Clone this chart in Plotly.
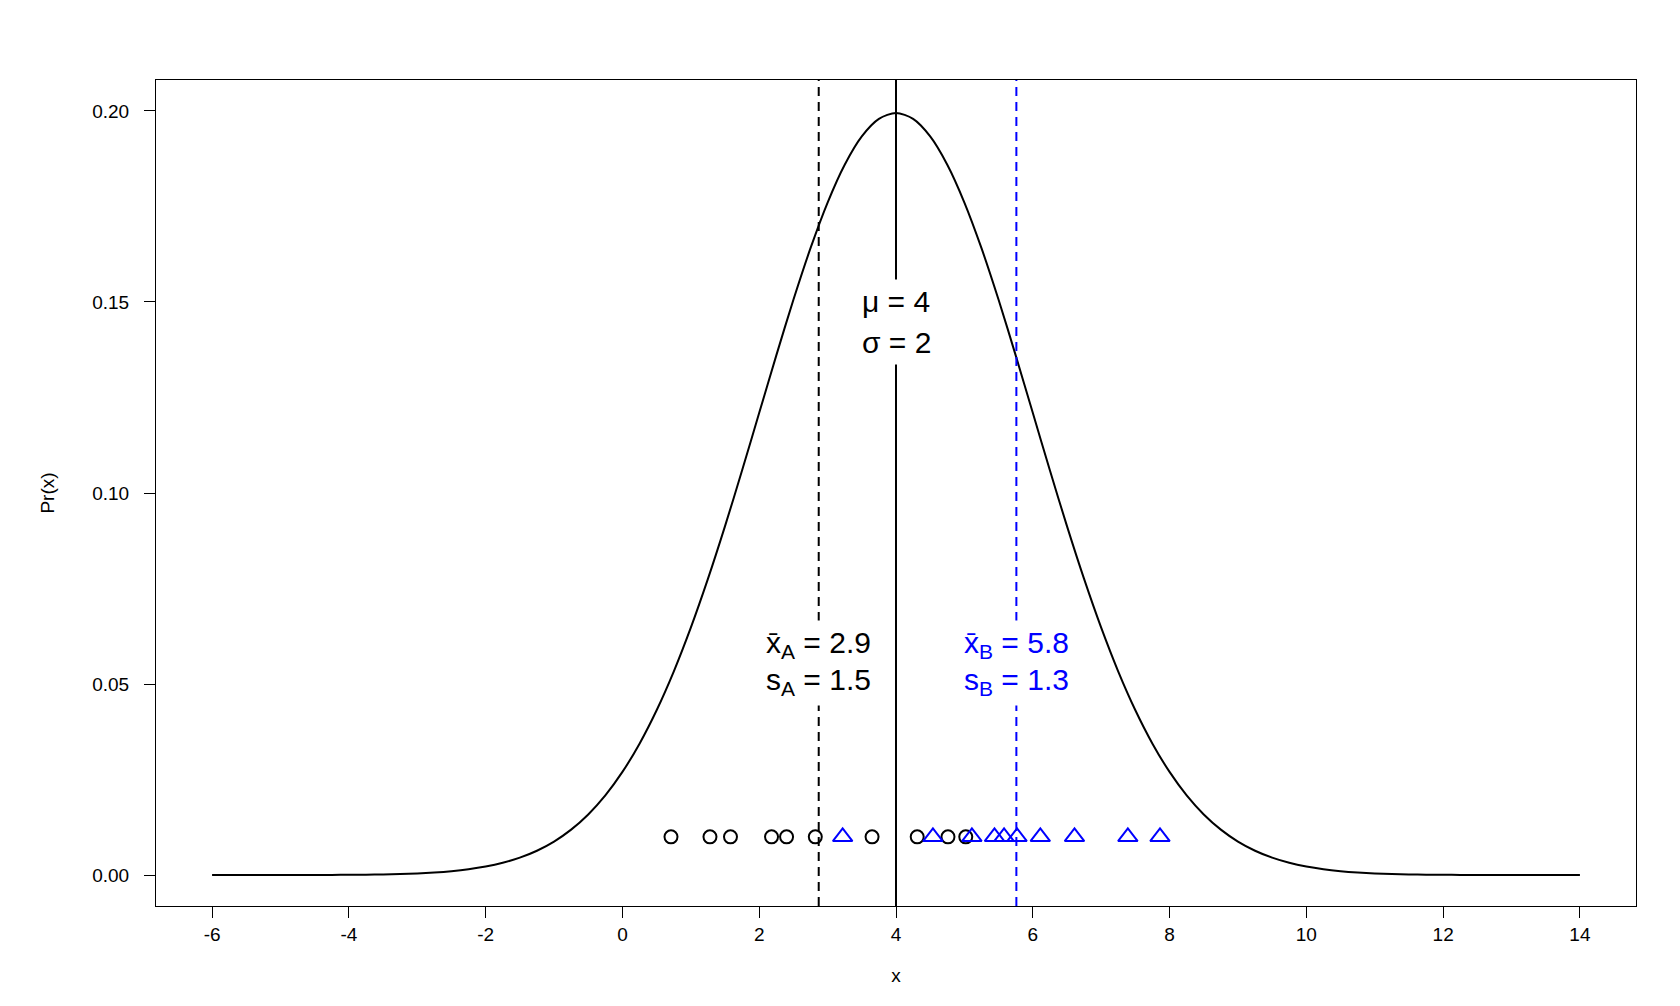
import plotly.graph_objects as go

# ---- data ----
x_grid = [-6.0, -5.75, -5.5, -5.25, -5.0, -4.75, -4.5, -4.25, -4.0, -3.75, -3.5, -3.25,
          -3.0, -2.75, -2.5, -2.25, -2.0, -1.75, -1.5, -1.25, -1.0, -0.75, -0.5, -0.25,
          0.0, 0.25, 0.5, 0.75, 1.0, 1.25, 1.5, 1.75, 2.0, 2.25, 2.5, 2.75,
          3.0, 3.25, 3.5, 3.75, 4.0, 4.25, 4.5, 4.75, 5.0, 5.25, 5.5, 5.75,
          6.0, 6.25, 6.5, 6.75, 7.0, 7.25, 7.5, 7.75, 8.0, 8.25, 8.5, 8.75,
          9.0, 9.25, 9.5, 9.75, 10.0, 10.25, 10.5, 10.75, 11.0, 11.25, 11.5, 11.75,
          12.0, 12.25, 12.5, 12.75, 13.0, 13.25, 13.5, 13.75, 14.0]
pr_values = [0.0000007, 0.0000014, 0.0000025, 0.0000045, 0.0000080, 0.0000139,
             0.0000239, 0.0000403, 0.0000669, 0.000109, 0.000176, 0.000279,
             0.000436, 0.000670, 0.001015, 0.001511, 0.002216, 0.003199,
             0.004547, 0.006363, 0.008764, 0.011885, 0.015870, 0.020863,
             0.026995, 0.034393, 0.043138, 0.053269, 0.064759, 0.077509,
             0.091324, 0.105937, 0.120985, 0.136028, 0.150569, 0.164081,
             0.176033, 0.185927, 0.193334, 0.197919, 0.199471,
             0.197919, 0.193334, 0.185927, 0.176033, 0.164081, 0.150569,
             0.136028, 0.120985, 0.105937, 0.091324, 0.077509, 0.064759,
             0.053269, 0.043138, 0.034393, 0.026995, 0.020863, 0.015870,
             0.011885, 0.008764, 0.006363, 0.004547, 0.003199, 0.002216,
             0.001511, 0.001015, 0.000670, 0.000436, 0.000279, 0.000176,
             0.000109, 0.0000669, 0.0000403, 0.0000239, 0.0000139, 0.0000080,
             0.0000045, 0.0000025, 0.0000014, 0.0000007]

sample_A = [0.71, 1.28, 1.58, 2.18, 2.40, 2.82, 3.65, 4.31, 4.76, 5.02]
sample_B = [3.22, 4.54, 5.11, 5.44, 5.58, 5.77, 6.11, 6.61, 7.39, 7.86]
rug_level = 0.01

mu = 4
mean_A = 2.87
mean_B = 5.76

x_ticks = [-6, -4, -2, 0, 2, 4, 6, 8, 10, 12, 14]
x_tick_labels = ["-6", "-4", "-2", "0", "2", "4", "6", "8", "10", "12", "14"]
y_ticks = [0.00, 0.05, 0.10, 0.15, 0.20]
y_tick_labels = ["0.00", "0.05", "0.10", "0.15", "0.20"]

label_mu = "\u03bc = 4"
label_sigma = "\u03c3 = 2"
label_mean_A = "x\u0304<sub>A</sub> = 2.9"
label_sd_A = "s<sub>A</sub> = 1.5"
label_mean_B = "x\u0304<sub>B</sub> = 5.8"
label_sd_B = "s<sub>B</sub> = 1.3"

BLUE = "#0000FF"
FONT = "Arial, 'Liberation Sans', sans-serif"

fig = go.Figure()

fig.add_trace(go.Scatter(x=x_grid, y=pr_values, mode="lines",
                         line=dict(color="black", width=2, shape="spline", smoothing=0.8),
                         showlegend=False, hoverinfo="skip"))
fig.add_trace(go.Scatter(x=sample_A, y=[rug_level] * len(sample_A), mode="markers",
                         marker=dict(symbol="circle-open", size=13, color="black",
                                     line=dict(width=2, color="black")),
                         showlegend=False))
fig.add_trace(go.Scatter(x=sample_B, y=[rug_level] * len(sample_B), mode="markers",
                         marker=dict(symbol="triangle-up-open", size=17, color=BLUE,
                                     line=dict(width=2, color=BLUE)),
                         showlegend=False))

# vertical reference lines
fig.add_shape(type="line", xref="x", yref="paper", x0=mu, x1=mu, y0=0, y1=1,
              line=dict(color="black", width=2))
fig.add_shape(type="line", xref="x", yref="paper", x0=mean_A, x1=mean_A, y0=0, y1=1,
              line=dict(color="black", width=2, dash="9px,6px"))
fig.add_shape(type="line", xref="x", yref="paper", x0=mean_B, x1=mean_B, y0=0, y1=1,
              line=dict(color=BLUE, width=2, dash="9px,6px"))

def label(x, y, text, color):
    fig.add_annotation(x=x, y=y, xref="x", yref="y", text=text, showarrow=False,
                       font=dict(family=FONT, size=30, color=color),
                       bgcolor="white", borderpad=5, xanchor="center", yanchor="middle")

label(mu, 0.1395, label_sigma, "black")
label(mu, 0.150, label_mu, "black")
label(mean_A, 0.0507, label_sd_A, "black")
label(mean_A, 0.0604, label_mean_A, "black")
label(mean_B, 0.0507, label_sd_B, BLUE)
label(mean_B, 0.0604, label_mean_B, BLUE)

axis_common = dict(showline=True, linecolor="black", linewidth=1, mirror=True,
                   ticks="outside", ticklen=11, tickwidth=1, tickcolor="black",
                   showgrid=False, zeroline=False,
                   tickfont=dict(family=FONT, size=19, color="black"))

fig.update_xaxes(range=[-6.82, 14.82], tickvals=x_ticks, ticktext=x_tick_labels,
                 ticklabelstandoff=0,
                 title=dict(text="x", font=dict(family=FONT, size=19, color="black"),
                            standoff=24),
                 **axis_common)
fig.update_yaxes(range=[-0.0081, 0.2081], tickvals=y_ticks, ticktext=y_tick_labels,
                 ticklabelstandoff=11,
                 title=dict(text="Pr(x)", font=dict(family=FONT, size=19, color="black"),
                            standoff=32),
                 **axis_common)

fig.update_layout(width=1680, height=1006,
                  margin=dict(l=148, r=52, t=72, b=108, autoexpand=False),
                  plot_bgcolor="white", paper_bgcolor="white",
                  font=dict(family=FONT, color="black"))

fig.write_html("out.html")
